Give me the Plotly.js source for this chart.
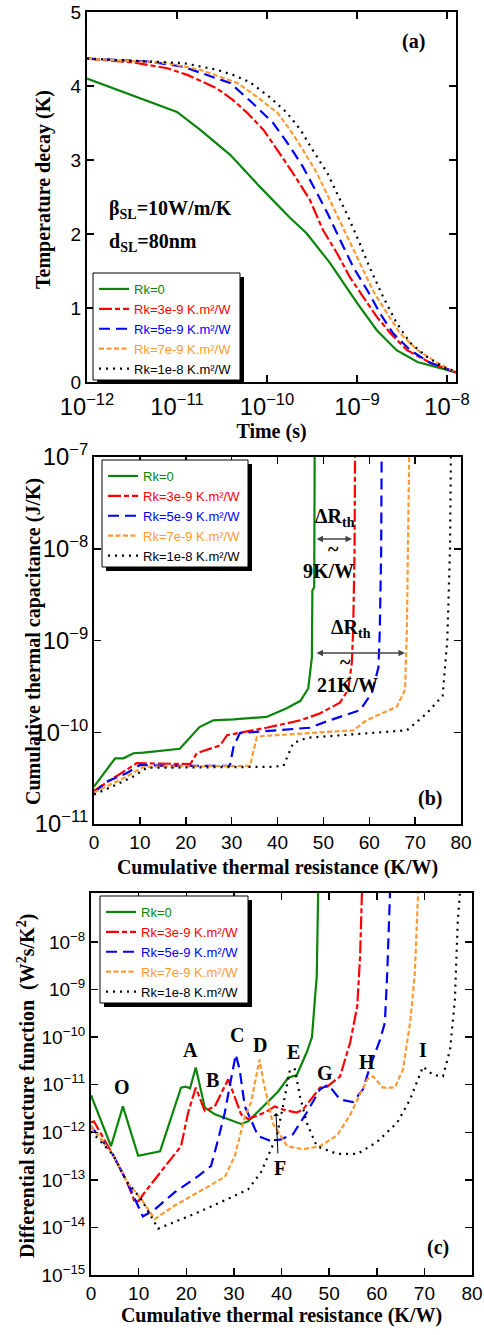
<!DOCTYPE html>
<html>
<head>
<meta charset="utf-8">
<script src="https://cdn.plot.ly/plotly-3.0.1.min.js"></script>
<style>html,body{margin:0;padding:0;background:#fff;}#chart{width:484px;height:1335px;}</style>
</head>
<body>
<div id="chart"></div>
<script>
// ---------- Names ----------
const seriesNames = ['Rk=0', 'Rk=3e-9 K.m²/W', 'Rk=5e-9 K.m²/W', 'Rk=7e-9 K.m²/W', 'Rk=1e-8 K.m²/W'];

// ---------- Panel (a): temperature decay vs time ----------
const aT_g = [1e-12, 3.2e-12, 1e-11, 1.8e-11, 3.9e-11, 8.3e-11, 1.8e-10, 2.75e-10, 5e-10, 1e-9, 1.66e-9, 2.75e-9, 4.7e-9, 1.17e-8, 1.26e-8];
const aV_g = [4.10, 3.87, 3.65, 3.41, 3.07, 2.64, 2.22, 2.01, 1.61, 1.07, 0.70, 0.43, 0.27, 0.14, 0.13];
const aT_r = [1e-12, 3.2e-12, 7.8e-12, 1.3e-11, 2.75e-11, 4.2e-11, 6e-11, 9.1e-11, 1.38e-10, 1.95e-10, 3e-10, 4.2e-10, 6e-10, 8.3e-10, 1.17e-9, 1.66e-9, 2.35e-9, 3.6e-9, 6.5e-9, 1.17e-8, 1.26e-8];
const aV_r = [4.37, 4.32, 4.24, 4.15, 3.97, 3.81, 3.64, 3.41, 3.09, 2.82, 2.46, 2.05, 1.74, 1.42, 1.15, 0.88, 0.66, 0.43, 0.26, 0.14, 0.13];
const aT_b = [1e-12, 5e-12, 1.17e-11, 2.75e-11, 3.9e-11, 6.9e-11, 1.17e-10, 1.8e-10, 2.5e-10, 3.6e-10, 4.7e-10, 6.5e-10, 9.1e-10, 1.3e-9, 1.8e-9, 2.5e-9, 3.9e-9, 6.5e-9, 1.17e-8, 1.26e-8];
const aV_b = [4.37, 4.33, 4.26, 4.10, 4.04, 3.77, 3.50, 3.18, 2.91, 2.55, 2.28, 1.92, 1.55, 1.24, 0.93, 0.66, 0.43, 0.26, 0.14, 0.13];
const aT_o = [1e-12, 7.8e-12, 1.8e-11, 4.7e-11, 7.8e-11, 1.3e-10, 1.8e-10, 2.5e-10, 3.6e-10, 5e-10, 6.2e-10, 7.8e-10, 1.07e-9, 1.5e-9, 2.15e-9, 3e-9, 4.7e-9, 7.8e-9, 1.17e-8, 1.26e-8];
const aV_o = [4.37, 4.31, 4.22, 4.04, 3.85, 3.64, 3.41, 3.14, 2.82, 2.46, 2.23, 1.96, 1.61, 1.24, 0.93, 0.66, 0.43, 0.26, 0.15, 0.13];
const aT_k = [1e-12, 1.17e-11, 2.75e-11, 4.2e-11, 6.5e-11, 1.07e-10, 1.66e-10, 2.35e-10, 3.2e-10, 4.7e-10, 6.5e-10, 7.8e-10, 1e-9, 1.38e-9, 1.95e-9, 2.75e-9, 3.9e-9, 6e-9, 9.1e-9, 1.26e-8];
const aV_k = [4.37, 4.31, 4.22, 4.15, 4.05, 3.85, 3.64, 3.41, 3.14, 2.82, 2.46, 2.26, 1.96, 1.55, 1.15, 0.80, 0.53, 0.34, 0.20, 0.14];

// ---------- Panel (b): cumulative thermal capacitance vs resistance ----------
const bR_g = [0, 4.6, 6.4, 8.6, 10.8, 18.7, 23, 26, 30.4, 37.6, 42, 45, 46.7, 47.5, 47.6, 48.0, 48.1];
const bC_g = [2.55e-11, 5.2e-11, 5.2e-11, 5.9e-11, 6e-11, 6.6e-11, 1.14e-10, 1.35e-10, 1.38e-10, 1.47e-10, 1.83e-10, 2.2e-10, 3e-10, 6.6e-10, 3.5e-9, 3.8e-9, 1e-7];
const bR_r = [0, 3.5, 7.2, 9.3, 21, 22.4, 27.5, 29, 37.6, 45, 49.2, 53.6, 55.4, 56.2, 56.5, 56.8, 56.9];
const bC_r = [2.3e-11, 3e-11, 4e-11, 4.6e-11, 4.5e-11, 5.9e-11, 7.2e-11, 9.3e-11, 1.12e-10, 1.35e-10, 1.6e-10, 2.1e-10, 2.9e-10, 5.7e-10, 1.3e-9, 1e-8, 1e-7];
const bR_b = [0, 2.8, 7.2, 10, 15.9, 29.6, 30.4, 31.8, 47, 51.4, 58, 60.6, 62, 62.3, 62.6, 62.7];
const bC_b = [2.2e-11, 2.9e-11, 3.6e-11, 4.4e-11, 4.3e-11, 4.3e-11, 6.9e-11, 9.8e-11, 1.12e-10, 1.35e-10, 1.74e-10, 2.7e-10, 5.1e-10, 1.3e-9, 1e-8, 1e-7];
const bR_o = [0, 3.5, 7.2, 10.8, 34, 35.5, 36.9, 56.5, 59.4, 66, 67.8, 68.2, 68.5, 68.7];
const bC_o = [2.2e-11, 2.7e-11, 3.3e-11, 4.2e-11, 4.3e-11, 8.9e-11, 9.1e-11, 1.05e-10, 1.35e-10, 1.9e-10, 2.9e-10, 1.3e-9, 1e-8, 1e-7];
const bR_k = [0, 3.5, 8.6, 11.5, 38.4, 41.3, 43.4, 46.4, 68.2, 72.5, 76, 77, 77.3, 77.6, 77.8];
const bC_k = [2.1e-11, 2.5e-11, 3.3e-11, 4.1e-11, 4.2e-11, 4.3e-11, 7.6e-11, 8.7e-11, 1.05e-10, 1.6e-10, 2.5e-10, 1e-9, 3e-9, 1e-8, 1e-7];

// ---------- Panel (c): differential structure function ----------
const cR_g = [0, 4.2, 6.7, 9.9, 14.5, 18.9, 19.9, 20.8, 22, 23.9, 26, 31.5, 33, 36.5, 39.3, 41.4, 43.2, 45.3, 46.4, 47, 47.4, 47.7];
const cK_g = [6e-12, 5.1e-13, 3.5e-12, 3.2e-13, 4e-13, 8.7e-12, 9.1e-12, 8.4e-12, 2.3e-11, 3.3e-12, 2.4e-12, 1.5e-12, 1.7e-12, 3.9e-12, 7.2e-12, 1.4e-11, 1.6e-11, 4.8e-11, 1e-10, 6.1e-10, 1.85e-9, 1.2e-7];
const cR_r = [0, 0.6, 4.6, 7.6, 9.2, 10, 11.3, 16.8, 18.9, 20.4, 22, 23.9, 26, 28.8, 30.2, 31.5, 33, 36.5, 38.6, 40.3, 43.2, 44.5, 48.1, 49.6, 52.3, 54.4, 55.9, 56.5, 56.9];
const cK_r = [1.6e-12, 1.7e-12, 3.4e-13, 8.9e-14, 3.4e-14, 3.6e-14, 5.5e-14, 2.7e-13, 5.1e-13, 2.6e-12, 8.7e-12, 2.8e-12, 3.5e-12, 1.3e-11, 5.6e-12, 2.4e-12, 1.9e-12, 2.6e-12, 3.5e-12, 3e-12, 2.6e-12, 3e-12, 8.7e-12, 9.1e-12, 1.5e-11, 7.6e-11, 4.4e-10, 4.9e-9, 1.2e-7];
const cR_b = [0, 4.6, 7.6, 10.9, 13.4, 17.6, 22.5, 25.2, 26.7, 28.1, 29.4, 30.4, 31.2, 32.3, 35.1, 37.8, 39.9, 42.4, 45.3, 48.1, 49.8, 52.3, 55, 57.1, 58.6, 60.7, 61.7, 62.2, 62.8];
const cK_b = [1.35e-12, 3.4e-13, 8.9e-14, 1.7e-14, 2.4e-14, 5.5e-14, 1.2e-13, 1.95e-13, 7.1e-13, 2.6e-12, 1.3e-11, 4.3e-11, 2.1e-11, 3.5e-12, 8.3e-13, 6.5e-13, 7.1e-13, 9.1e-13, 2.6e-12, 8e-12, 1e-11, 4.9e-12, 4.3e-12, 8e-12, 2.4e-11, 8.9e-11, 2e-10, 2.2e-9, 1.2e-7];
const cR_o = [0, 4.6, 7.6, 10.5, 13.4, 17.6, 22.5, 28.1, 30.2, 32.3, 33.6, 34.6, 35.4, 36.1, 37.2, 38.2, 39, 41.2, 44.5, 48.1, 51.7, 54.4, 58, 59.2, 61.3, 63.8, 65.5, 67, 68, 68.7];
const cK_o = [1.35e-12, 3.4e-13, 8.9e-14, 4e-14, 1.5e-14, 2.9e-14, 5.5e-14, 1.15e-13, 3.2e-13, 2.1e-12, 4.3e-12, 1.3e-11, 3.4e-11, 1.3e-11, 4.3e-12, 1.5e-12, 1.15e-12, 5.1e-13, 4.4e-13, 5.1e-13, 8.7e-13, 2.3e-12, 1.3e-11, 1.5e-11, 8.7e-12, 8.7e-12, 2.1e-11, 2e-10, 2.2e-9, 1.2e-7];
const cR_k = [0, 4.6, 7.6, 10.5, 14.1, 18.9, 23.1, 28.8, 33, 35.7, 37.6, 39, 40.3, 41.8, 42.8, 43.9, 45.3, 47.4, 51.7, 55.9, 60, 64.3, 67, 69.7, 71.8, 73.9, 75.4, 76.4, 77, 77.5];
const cK_k = [1.05e-12, 3.4e-13, 8.9e-14, 4e-14, 9.4e-15, 1.5e-14, 2.2e-14, 4e-14, 6.3e-14, 1.45e-13, 3.8e-13, 8.3e-13, 3.5e-12, 2.1e-11, 2.1e-11, 5.6e-12, 1.6e-12, 5.1e-13, 3.5e-13, 3.5e-13, 6.2e-13, 1.6e-12, 4.9e-12, 2.4e-11, 1.6e-11, 1.5e-11, 5.5e-11, 6.1e-10, 2.5e-8, 1.2e-7];

// tick positions / labels for panel (c) y axis
const cTickVals = [1e-15, 1e-14, 1e-13, 1e-12, 1e-11, 1e-10, 1e-9, 1e-8];
const cTickText = ['10<sup>−15</sup>', '10<sup>−14</sup>', '10<sup>−13</sup>', '10<sup>−12</sup>', '10<sup>−11</sup>', '10<sup>−10</sup>', '10<sup>−9</sup>', '10<sup>−8</sup>'];

// ---------- Styles ----------
const W = 484, H = 1335;
const colors = ['#0a850a', '#ff0000', '#0000ff', '#ff9a33', '#000000'];
const dashes = ['solid', '13px,3px,5px,3px', '11px,6px', '5px,2.5px', '2px,5px'];

const panels = [
  {xs: [aT_g, aT_r, aT_b, aT_o, aT_k], ys: [aV_g, aV_r, aV_b, aV_o, aV_k], xa: 'x', ya: 'y', lg: 'legend'},
  {xs: [bR_g, bR_r, bR_b, bR_o, bR_k], ys: [bC_g, bC_r, bC_b, bC_o, bC_k], xa: 'x2', ya: 'y2', lg: 'legend2'},
  {xs: [cR_g, cR_r, cR_b, cR_o, cR_k], ys: [cK_g, cK_r, cK_b, cK_o, cK_k], xa: 'x3', ya: 'y3', lg: 'legend3'}
];

const traces = [];
panels.forEach(p => {
  for (let i = 0; i < 5; i++) {
    traces.push({
      type: 'scatter', mode: 'lines',
      x: p.xs[i], y: p.ys[i], xaxis: p.xa, yaxis: p.ya, legend: p.lg,
      name: '<span style="color:' + colors[i] + '">' + seriesNames[i] + '</span>',
      line: {color: colors[i], width: 2.2, dash: dashes[i]},
      hoverinfo: 'skip'
    });
  }
});

const tickFont = {family: 'Liberation Sans, Arial, sans-serif', size: 19, color: '#000'};
const titleFont = {family: 'Liberation Serif, Times New Roman, serif', size: 20, color: '#000', weight: 'bold'};
function axisBase(extra) {
  return Object.assign({
    showline: true, linecolor: '#000', linewidth: 2, mirror: 'ticks',
    ticks: 'inside', ticklen: 7, tickwidth: 1.5, tickcolor: '#000',
    showgrid: false, zeroline: false, tickfont: tickFont, automargin: false,
    exponentformat: 'power', showexponent: 'all'
  }, extra);
}
const px = v => v / W, py = v => 1 - v / H;

// legend frames: [left, top, right, bottom] in pixels (frame + drop shadow drawn as shapes)
const legBox = [[93, 273, 240, 380], [102, 460, 248, 567], [100, 896, 248, 1003]];
function legendCfg(b) {
  return {x: px(b[0] + 1), y: py(b[1] + 1), xanchor: 'left', yanchor: 'top', bgcolor: 'rgba(0,0,0,0)',
          bordercolor: 'rgba(0,0,0,0)', borderwidth: 0, tracegroupgap: 0, itemwidth: 30,
          font: {family: 'Liberation Sans, Arial, sans-serif', size: 13, color: '#000'}};
}
const shapes = [];
legBox.forEach(b => {
  shapes.push({type: 'rect', xref: 'paper', yref: 'paper', x0: px(b[0] + 4), x1: px(b[2] + 4), y0: py(b[1] + 4), y1: py(b[3] + 4),
               fillcolor: '#000', line: {width: 0}, layer: 'above'});
  shapes.push({type: 'rect', xref: 'paper', yref: 'paper', x0: px(b[0]), x1: px(b[2]), y0: py(b[1]), y1: py(b[3]),
               fillcolor: '#fff', line: {color: '#000', width: 1}, layer: 'above'});
});

function txt(text, x, y, opts) {
  return Object.assign({text: text, x: px(x), y: py(y), xref: 'paper', yref: 'paper', showarrow: false,
    font: titleFont, xanchor: 'center', yanchor: 'middle'}, opts || {});
}
function dblArrow(x0, x1, y) {
  return {text: '', x: px(x1), y: py(y), xref: 'paper', yref: 'paper', showarrow: true,
    ax: x0 - x1, ay: 0, arrowside: 'end+start', arrowhead: 2, arrowsize: 1, arrowwidth: 1.3,
    arrowcolor: '#444', standoff: 0, startstandoff: 0};
}

const annotations = [
  // y-axis titles
  txt('Temperature decay (K)', 43, 190, {textangle: -90}),
  txt('Cumulative thermal capacitance (J/K)', 33, 642, {textangle: -90}),
  txt('Differential structure function  (W<sup>2</sup>s/K<sup>2</sup>)', 26, 1086, {textangle: -90}),
  // panel labels and notes
  txt('(a)', 413, 42),
  txt('β<sub>SL</sub>=10W/m/K', 107, 210, {xanchor: 'left'}),
  txt('d<sub>SL</sub>=80nm', 107, 243, {xanchor: 'left'}),
  txt('ΔR<sub>th</sub>', 313, 518, {xanchor: 'left'}),
  dblArrow(315, 352, 539),
  txt('~', 333, 549),
  txt('9K/W', 328, 571),
  txt('ΔR<sub>th</sub>', 329, 628, {xanchor: 'left'}),
  dblArrow(315, 405, 653),
  txt('~', 345, 662),
  txt('21K/W', 347, 685),
  txt('(b)', 430, 798),
  txt('(c)', 438, 1247),
  txt('O', 122, 1087), txt('A', 190, 1050), txt('B', 212, 1080), txt('C', 237, 1035),
  txt('D', 260, 1045), txt('E', 293, 1052), txt('G', 325, 1073), txt('H', 367, 1062),
  txt('I', 423, 1050), txt('F', 280, 1168),
  {text: '', x: px(276), y: py(1113), xref: 'paper', yref: 'paper', showarrow: true,
   ax: 2, ay: 42, arrowhead: 1, arrowsize: 1, arrowwidth: 1, arrowcolor: '#000', standoff: 0}
];

const layout = {
  width: W, height: H, margin: {l: 0, r: 0, t: 0, b: 0},
  paper_bgcolor: '#fff', plot_bgcolor: '#fff', showlegend: true,
  xaxis: axisBase({domain: [px(87), px(456)], anchor: 'y', type: 'log', range: [-12, -7.9], dtick: 1,
    ticklabelstandoff: 3, title: {text: 'Time (s)', font: titleFont, standoff: 0}}),
  yaxis: axisBase({domain: [py(382), py(12)], anchor: 'x', range: [0, 5], dtick: 1}),
  xaxis2: axisBase({domain: [px(94), px(461)], anchor: 'y2', range: [0, 80], dtick: 10,
    title: {text: 'Cumulative thermal resistance (K/W)', font: titleFont, standoff: 8}}),
  yaxis2: axisBase({domain: [py(824), py(457)], anchor: 'x2', type: 'log', range: [-11, -7], dtick: 1}),
  xaxis3: axisBase({domain: [px(91), px(472)], anchor: 'y3', range: [0, 80], dtick: 10,
    title: {text: 'Cumulative thermal resistance (K/W)', font: titleFont, standoff: 5}}),
  yaxis3: axisBase({domain: [py(1275), py(893)], anchor: 'x3', type: 'log', range: [-15, -6.97],
    tickmode: 'array', tickvals: cTickVals, ticktext: cTickText}),
  legend: legendCfg(legBox[0]),
  legend2: legendCfg(legBox[1]),
  legend3: legendCfg(legBox[2]),
  annotations: annotations,
  shapes: shapes
};

Plotly.newPlot('chart', traces, layout, {displayModeBar: false, staticPlot: true});
</script>
</body>
</html>
